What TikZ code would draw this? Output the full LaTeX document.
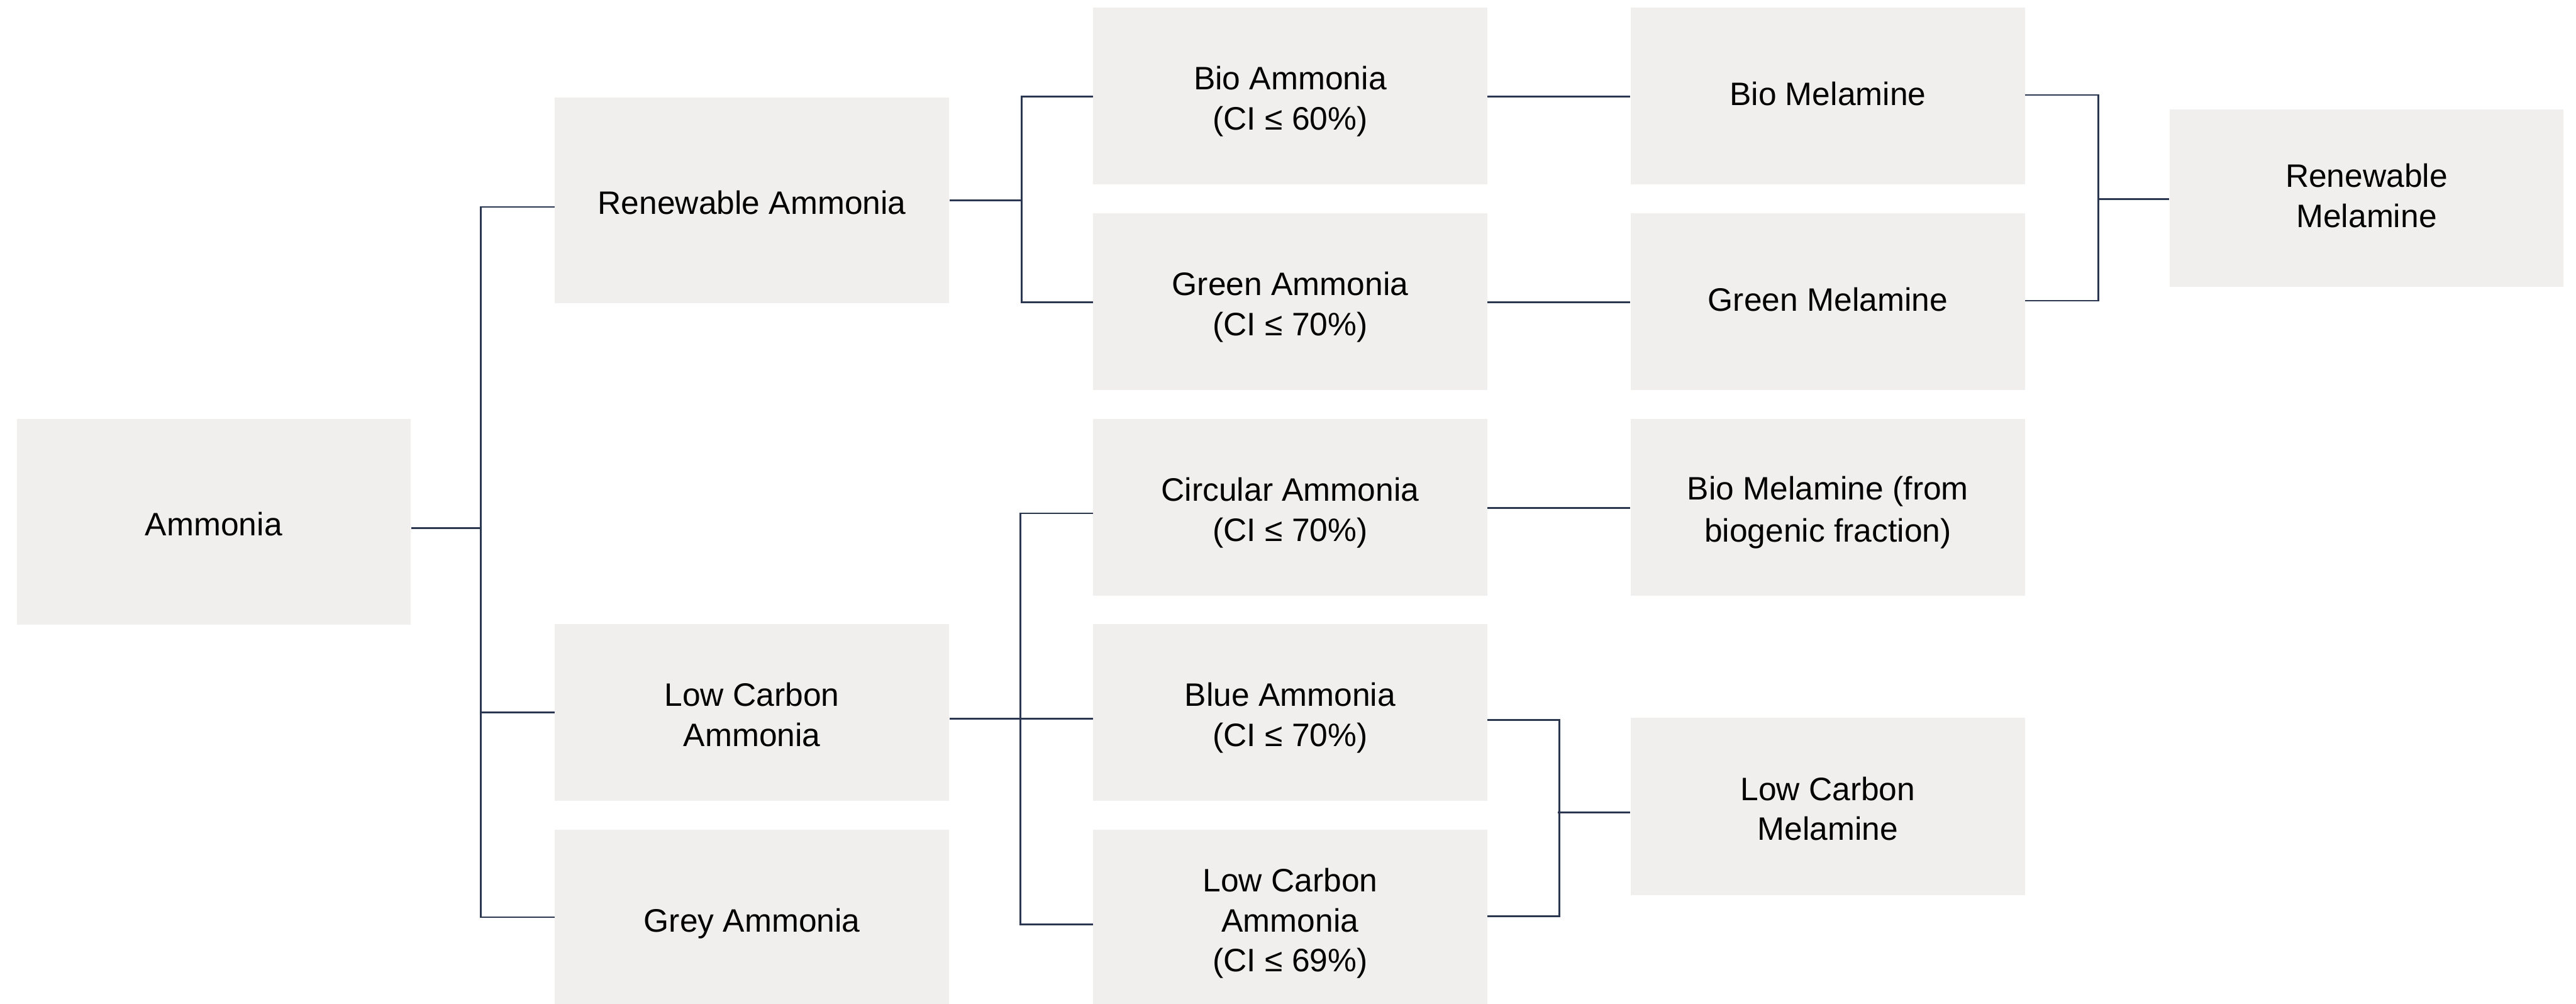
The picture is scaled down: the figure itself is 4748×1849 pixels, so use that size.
\documentclass[tikz,border=0pt]{standalone}
\usepackage{fontspec}
\setmainfont{Liberation Sans}
\usetikzlibrary{calc}
\definecolor{boxfill}{HTML}{F0EFED}
\definecolor{linecol}{HTML}{2B3752}
\newcommand{\ms}{\rule[-3.27pt]{0pt}{21pt}}
\newcommand{\mt}{\rule[-5.7pt]{0pt}{21pt}}
\begin{document}
\begin{tikzpicture}[x=0.01cm,y=-0.01cm,
  box/.style={fill=boxfill, draw=none, minimum width=7.26cm, minimum height=3.26cm,
    inner sep=0pt, align=center, font=\fontsize{17}{21}\selectfont, text=black},
  tallbox/.style={box, minimum height=3.79cm},
  conn/.style={draw=linecol, line width=0.9pt, line join=miter}]
\useasboundingbox (0,0) rectangle (4748,1849);
\fill[white] (0,0) rectangle (4748,1849);

% column 1
\node[tallbox] (amm) at (394,961.5) {\ms Ammonia};
% column 2
\node[tallbox] (ren) at (1386,369.5) {\ms Renewable Ammonia};
\node[box] (lca) at (1386,1313) {\ms Low Carbon\\\ms Ammonia};
\node[box] (grey) at (1386,1692) {\ms Grey Ammonia};
% column 3
\node[box] (bio) at (2378,177) {\ms Bio Ammonia\\\ms (CI ≤ 60\%)};
\node[box] (green) at (2378,556) {\ms Green Ammonia\\\ms (CI ≤ 70\%)};
\node[box] (circ) at (2378,935) {\ms Circular Ammonia\\\ms (CI ≤ 70\%)};
\node[box] (blue) at (2378,1313) {\ms Blue Ammonia\\\ms (CI ≤ 70\%)};
\node[box] (lcb) at (2378,1692) {\ms Low Carbon\\\ms Ammonia\\\ms (CI ≤ 69\%)};
% column 4
\node[box] (biomel) at (3369,177) {\mt Bio Melamine};
\node[box] (greenmel) at (3369,556) {\mt Green Melamine};
\node[box] (biofrac) at (3369,935) {\ms Bio Melamine (from\\\ms biogenic fraction)};
\node[box] (lcmel) at (3369,1486) {\ms Low Carbon\\\ms Melamine};
% column 5
\node[box] (renmel) at (4362,365) {\mt Renewable\\\mt Melamine};

% Ammonia fork
\draw[conn] ($(amm.east)+(0,11.5)$) -- ++(130,0);
\draw[conn] ($(ren.west)+(0,12)$) -- ++(-136,0) |- ($(grey.west)+(0,-2)$);
\draw[conn] (lca.west) -- ++(-136,0);

% Renewable fork
\draw[conn] (ren.east) -- ++(135,0);
\draw[conn] ($(bio.west)+(0,1)$) -- ++(-131,0) |- ($(green.west)+(0,1)$);

% Low carbon fork
\draw[conn] ($(lca.east)+(0,11)$) -- ($(blue.west)+(0,11)$);
\draw[conn] ($(circ.west)+(0,11)$) -- ++(-133,0) |- ($(lcb.west)+(0,11)$);

% straight links
\draw[conn] ($(bio.east)+(0,1)$) -- ($(biomel.west)+(0,1)$);
\draw[conn] ($(green.east)+(0,1)$) -- ($(greenmel.west)+(0,1)$);
\draw[conn] ($(circ.east)+(0,1)$) -- ($(biofrac.west)+(0,1)$);

% Low carbon melamine merge
\draw[conn] ($(blue.east)+(0,14)$) -- ++(132,0) |- ($(lcb.east)+(0,-4)$);
\draw[conn] ($(lcmel.west)+(0,11)$) -- ++(-134,0);

% Renewable melamine merge
\draw[conn] ($(biomel.east)+(0,-2)$) -- ++(135,0) |- ($(greenmel.east)+(0,-2)$);
\draw[conn] ($(renmel.west)+(0,2)$) -- ++(-132,0);
\end{tikzpicture}
\end{document}
